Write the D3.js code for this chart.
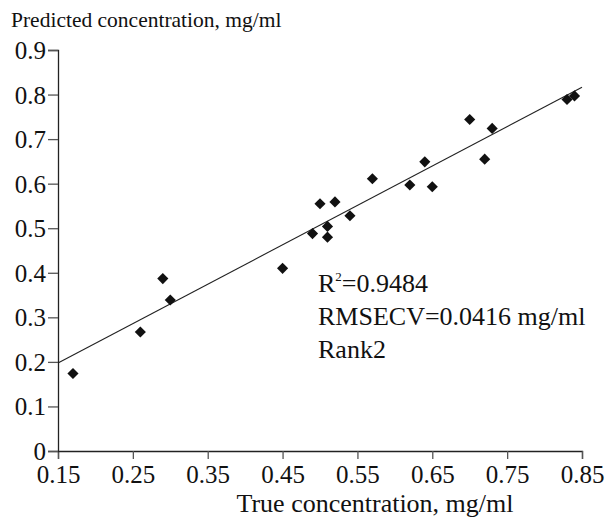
<!DOCTYPE html>
<html>
<head>
<meta charset="utf-8">
<script src="https://cdn.jsdelivr.net/npm/d3@7"></script>
<style>
  body { margin: 0; background: #fff; }
  svg text { font-family: "Liberation Serif", "Times New Roman", serif; fill: #111; }
</style>
</head>
<body>
<div id="d3-container"></div>
<script>
// true vs predicted concentration, mg/ml
var trueConc = [0.17, 0.26, 0.29, 0.30, 0.45, 0.49, 0.50, 0.51, 0.51, 0.52, 0.54, 0.57,
                0.62, 0.64, 0.65, 0.70, 0.72, 0.73, 0.83, 0.84];
var predConc = [0.174, 0.267, 0.387, 0.339, 0.410, 0.488, 0.555, 0.504, 0.480, 0.559, 0.528, 0.611,
                0.597, 0.649, 0.593, 0.744, 0.655, 0.724, 0.789, 0.797];
var xTicks = [0.15, 0.25, 0.35, 0.45, 0.55, 0.65, 0.75, 0.85];
var yTicks = [0, 0.1, 0.2, 0.3, 0.4, 0.5, 0.6, 0.7, 0.8, 0.9];
// fitted line
var fitSlope = 0.884, fitIntercept = 0.065;
var notes = ["RMSECV=0.0416 mg/ml", "Rank2"];

var serif = "'Liberation Serif', 'Times New Roman', serif";

var margin = {top: 50, right: 24, bottom: 67, left: 58},
    width = 606 - margin.left - margin.right,
    height = 518 - margin.top - margin.bottom;

var svg = d3.select("#d3-container")
  .append("svg")
    .attr("width", 606)
    .attr("height", 518)
  .append("g")
    .attr("transform", "translate(" + margin.left + "," + margin.top + ")");

var x = d3.scaleLinear().domain([0.15, 0.85]).range([0, width]);
var y = d3.scaleLinear().domain([0, 0.9]).range([height, 0]);

var xAxis = svg.append("g")
  .attr("transform", "translate(0," + height + ")")
  .call(d3.axisBottom(x).tickValues(xTicks).tickFormat(d3.format(".2f")).tickSize(8).tickPadding(4));
var yAxis = svg.append("g")
  .call(d3.axisLeft(y).tickValues(yTicks).tickFormat(function(d) { return d === 0 ? "0" : d3.format(".1f")(d); })
        .tickSize(10).tickPadding(2));

[xAxis, yAxis].forEach(function(a) {
  a.attr("font-family", serif);
  a.select(".domain").attr("stroke", "#222").attr("stroke-width", 1.3);
  a.selectAll(".tick line").attr("stroke", "#555").attr("stroke-width", 1.3);
  a.selectAll(".tick text")
    .style("font-family", serif)
    .style("font-size", "25px")
    .attr("fill", "#111");
});
xAxis.selectAll(".tick text").attr("dy", "0.8em");
yAxis.selectAll(".tick text").attr("dy", "0.34em");

// regression line
svg.append("line")
  .attr("x1", x(0.15)).attr("y1", y(fitSlope * 0.15 + fitIntercept))
  .attr("x2", x(0.85)).attr("y2", y(fitSlope * 0.85 + fitIntercept))
  .attr("stroke", "#222")
  .attr("stroke-width", 1.1);

// Add dots
svg.append("g")
  .selectAll("path")
  .data(trueConc)
  .enter()
  .append("path")
    .attr("d", d3.symbol().type(d3.symbolSquare).size(62))
    .attr("transform", function(d, i) {
      return "translate(" + x(d) + "," + y(predConc[i]) + ") rotate(45)";
    })
    .attr("fill", "#111");

// axis titles
svg.append("text")
  .attr("x", -margin.left + 11)
  .attr("y", -23)
  .style("font-family", serif)
  .style("font-size", "21.5px")
  .text("Predicted concentration, mg/ml");

svg.append("text")
  .attr("x", 375 - margin.left)
  .attr("y", 512 - margin.top)
  .attr("text-anchor", "middle")
  .style("font-family", serif)
  .style("font-size", "26px")
  .text("True concentration, mg/ml");

// annotation
var r2 = svg.append("text")
  .attr("x", 318 - margin.left)
  .attr("y", 292 - margin.top)
  .style("font-family", serif)
  .style("font-size", "26px");
r2.append("tspan").text("R");
r2.append("tspan").attr("dy", -11).style("font-size", "13px").text("2");
r2.append("tspan").attr("dy", 11).text("=0.9484");

svg.selectAll(".note")
  .data(notes)
  .enter()
  .append("text")
    .attr("class", "note")
    .attr("x", 318 - margin.left)
    .attr("y", function(d, i) { return 325 + i * 33 - margin.top; })
    .style("font-family", serif)
    .style("font-size", "26px")
    .text(function(d) { return d; });
</script>
</body>
</html>
